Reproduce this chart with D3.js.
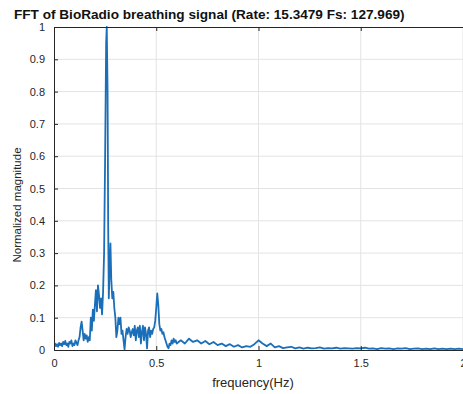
<html>
<head>
<script src="https://cdn.jsdelivr.net/npm/d3@7/dist/d3.min.js"></script>
<style>
  * { margin: 0; padding: 0; }
  body { background: white; font-family: "Liberation Sans", Arial, sans-serif; }
  .grid line { stroke: #e3e3e3; stroke-width: 1; }
  .axis path, .axis line { stroke: #262626; }
  .axis text { fill: #262626; font-size: 11px; font-family: "Liberation Sans", Arial, sans-serif; }
</style>
</head>
<body>
<svg id="chart" width="463" height="394"></svg>
<script>
  const titleText = "FFT of BioRadio breathing signal (Rate: 15.3479 Fs: 127.969)";
  const xLabel = "frequency(Hz)";
  const yLabel = "Normalized magnitude";
  const xTicks = [0, 0.5, 1, 1.5, 2];
  const yTicks = [0, 0.1, 0.2, 0.3, 0.4, 0.5, 0.6, 0.7, 0.8, 0.9, 1];

  const freq = [
    0.000, 0.005, 0.010, 0.015, 0.020, 0.025, 0.030, 0.035, 0.040, 0.045,
    0.050, 0.055, 0.060, 0.065, 0.070, 0.075, 0.080, 0.085, 0.090, 0.095,
    0.100, 0.105, 0.110, 0.115, 0.120, 0.125, 0.130, 0.135, 0.140, 0.145,
    0.150, 0.155, 0.160, 0.165, 0.170, 0.175, 0.180, 0.185, 0.190, 0.195,
    0.200, 0.205, 0.210, 0.215, 0.220, 0.225, 0.230, 0.235, 0.240, 0.245,
    0.250, 0.255, 0.258, 0.262, 0.265, 0.268, 0.272, 0.276, 0.280, 0.285,
    0.290, 0.295, 0.300, 0.305, 0.310, 0.315, 0.320, 0.325, 0.330, 0.335,
    0.340, 0.345, 0.350, 0.355, 0.360, 0.365, 0.370, 0.375, 0.380, 0.385,
    0.390, 0.395, 0.400, 0.405, 0.410, 0.415, 0.420, 0.425, 0.430, 0.435,
    0.440, 0.445, 0.450, 0.455, 0.460, 0.465, 0.470, 0.475, 0.480, 0.485,
    0.490, 0.495, 0.500, 0.505, 0.510, 0.515, 0.520, 0.525, 0.530, 0.535,
    0.540, 0.545, 0.550, 0.555, 0.560, 0.565, 0.570, 0.575, 0.580, 0.585,
    0.590, 0.595, 0.600,
    0.62, 0.64, 0.66, 0.68, 0.70, 0.72, 0.74, 0.76, 0.78, 0.80,
    0.82, 0.84, 0.86, 0.88, 0.90, 0.92, 0.94, 0.96, 0.98, 1.00,
    1.02, 1.04, 1.06, 1.08, 1.10, 1.12, 1.14, 1.16, 1.18, 1.20,
    1.22, 1.24, 1.26, 1.28, 1.30, 1.32, 1.34, 1.36, 1.38, 1.40,
    1.42, 1.44, 1.46, 1.48, 1.50, 1.52, 1.54, 1.56, 1.58, 1.60,
    1.62, 1.64, 1.66, 1.68, 1.70, 1.72, 1.74, 1.76, 1.78, 1.80,
    1.82, 1.84, 1.86, 1.88, 1.90, 1.92, 1.94, 1.96, 1.98, 2.00
  ];

  const magnitude = [
    0.010, 0.020, 0.012, 0.018, 0.010, 0.022, 0.015, 0.020, 0.012, 0.025,
    0.018, 0.028, 0.015, 0.020, 0.010, 0.025, 0.020, 0.030, 0.012, 0.020,
    0.015, 0.030, 0.022, 0.015, 0.030, 0.040, 0.070, 0.088, 0.060, 0.030,
    0.050, 0.035, 0.045, 0.025, 0.040, 0.030, 0.100, 0.060, 0.125, 0.090,
    0.140, 0.185, 0.120, 0.200, 0.170, 0.130, 0.160, 0.110, 0.180, 0.300,
    0.600, 0.950, 1.000, 0.800, 0.380, 0.160, 0.250, 0.330, 0.220, 0.160,
    0.180, 0.130, 0.100, 0.040, 0.060, 0.100, 0.080, 0.100, 0.050, 0.060,
    0.030, 0.002, 0.040, 0.065, 0.050, 0.070, 0.060, 0.040, 0.055, 0.065,
    0.045, 0.075, 0.030, 0.060, 0.070, 0.040, 0.075, 0.020, 0.055, 0.075,
    0.030, 0.070, 0.050, 0.005, 0.060, 0.070, 0.040, 0.060, 0.050, 0.065,
    0.070, 0.090, 0.130, 0.175, 0.140, 0.080, 0.060, 0.065, 0.050, 0.055,
    0.040, 0.030, 0.020, 0.010, 0.005, 0.020, 0.015, 0.030, 0.020, 0.035,
    0.025, 0.030, 0.020,
    0.030, 0.020, 0.035, 0.025, 0.030, 0.020, 0.028, 0.018, 0.025, 0.015,
    0.020, 0.012, 0.018, 0.010, 0.015, 0.008, 0.012, 0.010, 0.018, 0.030,
    0.020, 0.012, 0.020, 0.008, 0.012, 0.006, 0.008, 0.010, 0.005, 0.008,
    0.004, 0.007, 0.005, 0.006, 0.008, 0.004, 0.006, 0.005, 0.007, 0.004,
    0.006, 0.005, 0.004, 0.006, 0.005, 0.007, 0.004, 0.005, 0.003, 0.006,
    0.004, 0.005, 0.003, 0.005, 0.004, 0.006, 0.003, 0.004, 0.005, 0.003,
    0.004, 0.003, 0.005, 0.003, 0.004, 0.003, 0.004, 0.003, 0.004, 0.003
  ];

  const plotLeft = 54, plotRight = 463, plotTop = 27, plotBottom = 350;

  const svg = d3.select("#chart");

  const x = d3.scaleLinear().domain([0, 2]).range([plotLeft, plotRight]);
  const y = d3.scaleLinear().domain([0, 1]).range([plotBottom, plotTop]);

  svg.append("defs").append("clipPath").attr("id", "plotClip")
    .append("rect")
    .attr("x", plotLeft).attr("y", plotTop - 1)
    .attr("width", plotRight - plotLeft).attr("height", plotBottom - plotTop + 2);

  // grid
  svg.append("g").attr("class", "grid")
    .selectAll("line").data(xTicks.filter(d => d > 0)).enter()
    .append("line")
    .attr("x1", d => x(d)).attr("x2", d => x(d))
    .attr("y1", plotTop).attr("y2", plotBottom);
  svg.append("g").attr("class", "grid")
    .selectAll("line").data(yTicks.filter(d => d > 0 && d < 1)).enter()
    .append("line")
    .attr("x1", plotLeft).attr("x2", plotRight)
    .attr("y1", d => y(d)).attr("y2", d => y(d));

  // data line
  const pts = freq.map((f, i) => [f, magnitude[i]]);
  const line = d3.line().x(d => x(d[0])).y(d => y(d[1]));
  svg.append("path")
    .datum(pts)
    .attr("clip-path", "url(#plotClip)")
    .attr("fill", "none")
    .attr("stroke", "#1a6fb8")
    .attr("stroke-width", 1.8)
    .attr("stroke-linejoin", "round")
    .attr("d", line);

  // axes (MATLAB style, ticks inside)
  const xAxis = d3.axisBottom(x).tickValues(xTicks).tickSizeInner(-4).tickSizeOuter(0)
    .tickPadding(9).tickFormat(d3.format("~g"));
  const yAxis = d3.axisLeft(y).tickValues(yTicks).tickSizeInner(-4).tickSizeOuter(0)
    .tickPadding(9).tickFormat(d3.format("~g"));
  const xTop = d3.axisTop(x).tickValues(xTicks).tickSizeInner(-4).tickSizeOuter(0).tickFormat("");

  svg.append("g").attr("class", "axis")
    .attr("transform", "translate(0," + plotBottom + ")").call(xAxis);
  svg.append("g").attr("class", "axis")
    .attr("transform", "translate(0," + plotTop + ")").call(xTop);
  svg.append("g").attr("class", "axis")
    .attr("transform", "translate(" + plotLeft + ",0)").call(yAxis);

  // title
  svg.append("text")
    .attr("x", 14).attr("y", 19)
    .attr("font-size", 13.6).attr("font-weight", "bold")
    .attr("fill", "#111")
    .text(titleText);

  // axis labels
  svg.append("text")
    .attr("x", 253).attr("y", 387)
    .attr("text-anchor", "middle")
    .attr("font-size", 13).attr("fill", "#262626")
    .text(xLabel);

  svg.append("text")
    .attr("transform", "translate(21,205) rotate(-90)")
    .attr("text-anchor", "middle")
    .attr("font-size", 11.5).attr("fill", "#262626")
    .text(yLabel);
</script>
</body>
</html>
